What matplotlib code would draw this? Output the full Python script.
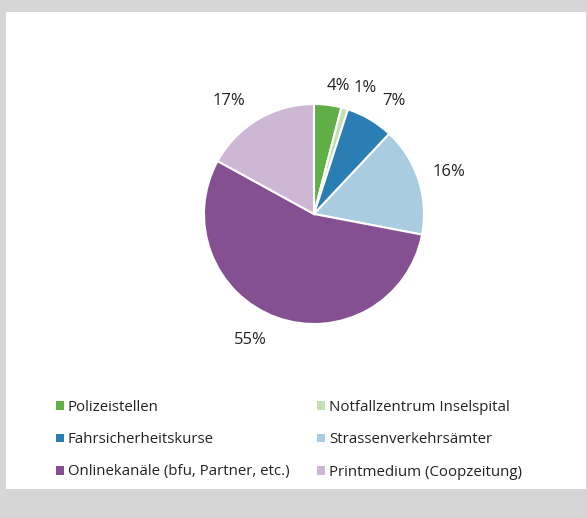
import matplotlib
matplotlib.use("Agg")
import matplotlib.pyplot as plt
from matplotlib.patches import Rectangle, Patch

categories = ["Polizeistellen", "Notfallzentrum Inselspital", "Fahrsicherheitskurse",
              "Strassenverkehrsämter", "Onlinekanäle (bfu, Partner, etc.)",
              "Printmedium (Coopzeitung)"]
values = [4, 1, 7, 16, 55, 17]
colors = ["#5FAE46", "#C3E0B2", "#2A7EB4", "#A9CCE0", "#845092", "#CDB7D5"]

# small placement nudges for the value labels (in pixels, x right / y down),
# mimicking the spreadsheet's "best fit" label placement
label_nudges_px = [(7, 8), (12.6, 6), (10, 5.4), (4, 0.5), (-17.4, -3.4), (-15, 5.4)]

plt.rcParams["font.family"] = ["Open Sans", "DejaVu Sans"]

W, H = 587, 518
fig = plt.figure(figsize=(W / 100, H / 100), dpi=100)
fig.patch.set_facecolor("#D6D6D6")
fig.patches.append(Rectangle((6 / W, (H - 489) / H), (586 - 6) / W, (489 - 12) / H,
                             transform=fig.transFigure, facecolor="white",
                             edgecolor="none", zorder=-10))

cx, cy, r = 314, 214, 110
ax = fig.add_axes([(cx - r) / W, (H - cy - r) / H, 2 * r / W, 2 * r / H])
ax.set_zorder(2)

wedges, texts = ax.pie(values, colors=colors, startangle=90, counterclock=False,
                       labels=[f"{v}%" for v in values], labeldistance=1.25,
                       wedgeprops=dict(edgecolor="white", linewidth=1.5),
                       textprops=dict(fontsize=12, color="#222222"))
ax.set_xlim(-1, 1)
ax.set_ylim(-1, 1)
ax.set_aspect("equal")
ax.axis("off")
for t, (dx, dy) in zip(texts, label_nudges_px):
    x, y = t.get_position()
    t.set_position((x + dx / r, y - dy / r))
    t.set_ha("center")
    t.set_va("center")

order = [0, 2, 4, 1, 3, 5]
handles = [Patch(facecolor=colors[i], edgecolor="none") for i in order]
labels = [categories[i] for i in order]
leg = fig.legend(handles, labels, ncol=2, loc="upper left",
                 bbox_to_anchor=(56 / W, (H - 400) / H), frameon=False,
                 borderpad=0, borderaxespad=0,
                 fontsize=10.8, handlelength=0.53, handleheight=0.53,
                 handletextpad=0.25, labelspacing=1.15, columnspacing=1.85)
for t in leg.get_texts():
    t.set_color("#222222")

fig.savefig("out.png", dpi=100, facecolor=fig.get_facecolor())
